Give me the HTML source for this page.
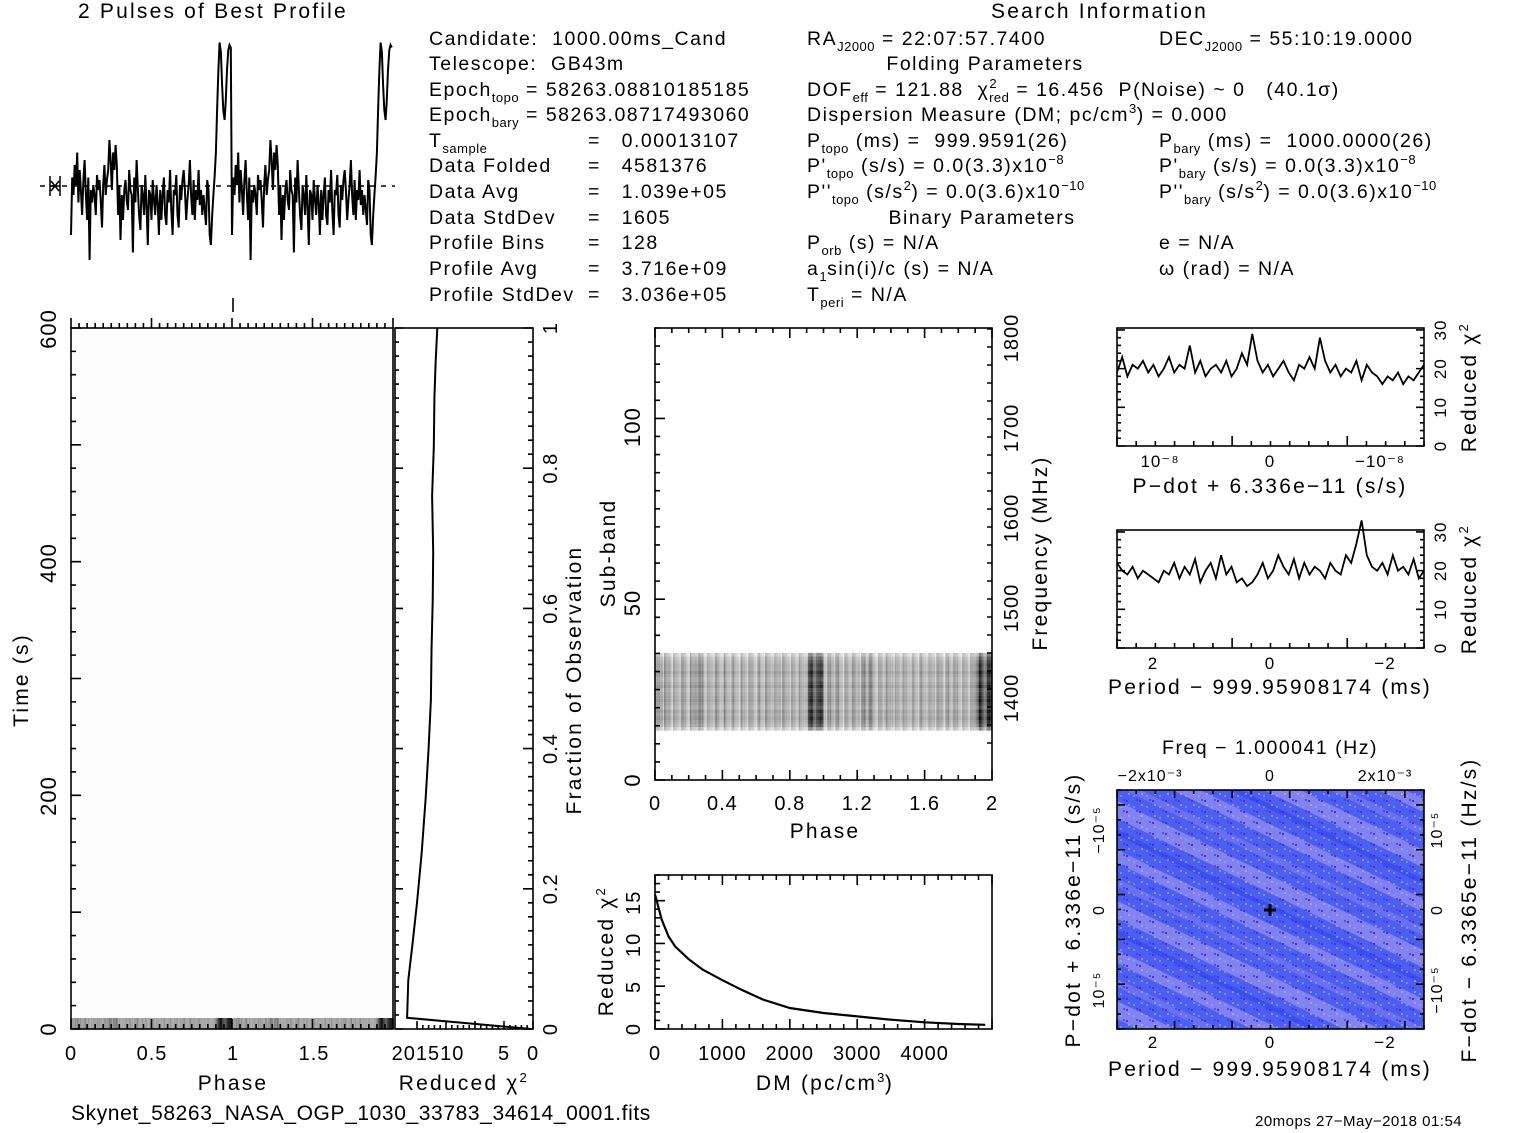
<!DOCTYPE html>
<html><head><meta charset="utf-8">
<style>
html,body{margin:0;padding:0;background:#fff;}
#wrap{position:relative;width:1517px;height:1133px;overflow:hidden;font-family:"Liberation Sans",sans-serif;color:#000;}
svg{position:absolute;left:0;top:0;}
.t{position:absolute;white-space:nowrap;font-size:19.5px;line-height:20px;letter-spacing:1.5px;}
.big{font-size:21px;letter-spacing:2.2px;}
.c{transform:translateX(-50%);}
.r{transform:translate(-50%,-50%) rotate(-90deg);}
sub{font-size:13px;vertical-align:-6px;line-height:0;letter-spacing:0.5px;}
sup{font-size:13px;vertical-align:8px;line-height:0;letter-spacing:0.5px;}
</style></head><body>
<div id="wrap">
<svg id="plot" width="1517" height="1133" xmlns="http://www.w3.org/2000/svg">
<defs>
<pattern id="stripes" patternUnits="userSpaceOnUse" width="400" height="90" patternTransform="rotate(26)">
<rect x="0" y="0" width="400" height="90" fill="#4f5ef0"/>
<rect x="0" y="4" width="400" height="12" fill="#9c8fee" opacity="0.7"/>
<rect x="0" y="30" width="400" height="7" fill="#7f7cf0" opacity="0.6"/>
<rect x="0" y="50" width="400" height="16" fill="#a898ee" opacity="0.6"/>
<rect x="0" y="76" width="400" height="5" fill="#3548f0" opacity="0.7"/>
</pattern>
<pattern id="speck" patternUnits="userSpaceOnUse" width="13" height="11">
<rect x="2" y="3" width="2" height="2" fill="#30d8e8" opacity="0.6"/>
<rect x="8" y="8" width="2" height="2" fill="#2a3ef0"/>
<rect x="10" y="1" width="2" height="2" fill="#d0c0f8" opacity="0.5"/>
<rect x="5" y="7" width="2" height="2" fill="#3040e8" opacity="0.7"/>
</pattern>
</defs>
</svg>

<div class="t big" style="left:78px;top:2px;">2 Pulses of Best Profile</div>
<div class="t big" style="left:991px;top:2px;">Search Information</div>

<div class="t" style="left:429px;top:29px;">Candidate:&nbsp; 1000.00ms_Cand</div>
<div class="t" style="left:429px;top:54px;">Telescope:&nbsp; GB43m</div>
<div class="t" style="left:429px;top:80px;">Epoch<sub>topo</sub> = 58263.08810185185</div>
<div class="t" style="left:429px;top:105px;">Epoch<sub>bary</sub> = 58263.08717493060</div>
<div class="t" style="left:429px;top:131px;">T<sub>sample</sub></div>
<div class="t" style="left:429px;top:156px;">Data Folded</div>
<div class="t" style="left:429px;top:182px;">Data Avg</div>
<div class="t" style="left:429px;top:208px;">Data StdDev</div>
<div class="t" style="left:429px;top:233px;">Profile Bins</div>
<div class="t" style="left:429px;top:259px;">Profile Avg</div>
<div class="t" style="left:429px;top:285px;">Profile StdDev</div>
<div class="t" style="left:588px;top:131px;">=&nbsp;&nbsp; 0.00013107</div>
<div class="t" style="left:588px;top:156px;">=&nbsp;&nbsp; 4581376</div>
<div class="t" style="left:588px;top:182px;">=&nbsp;&nbsp; 1.039e+05</div>
<div class="t" style="left:588px;top:208px;">=&nbsp;&nbsp; 1605</div>
<div class="t" style="left:588px;top:233px;">=&nbsp;&nbsp; 128</div>
<div class="t" style="left:588px;top:259px;">=&nbsp;&nbsp; 3.716e+09</div>
<div class="t" style="left:588px;top:285px;">=&nbsp;&nbsp; 3.036e+05</div>

<div class="t" style="left:807px;top:29px;">RA<sub>J2000</sub> = 22:07:57.7400</div>
<div class="t c" style="left:985px;top:54px;">Folding Parameters</div>
<div class="t" style="left:807px;top:80px;">DOF<sub>eff</sub> = 121.88&nbsp; χ<sup>2</sup><sub style="margin-left:-8px">red</sub> = 16.456&nbsp; P(Noise) ~ 0&nbsp;&nbsp; (40.1σ)</div>
<div class="t" style="left:807px;top:105px;">Dispersion Measure (DM; pc/cm<sup>3</sup>) = 0.000</div>
<div class="t" style="left:807px;top:131px;">P<sub>topo</sub> (ms) =&nbsp; 999.9591(26)</div>
<div class="t" style="left:807px;top:156px;">P'<sub>topo</sub> (s/s) = 0.0(3.3)x10<sup>−8</sup></div>
<div class="t" style="left:807px;top:182px;">P''<sub>topo</sub> (s/s<sup>2</sup>) = 0.0(3.6)x10<sup>−10</sup></div>
<div class="t c" style="left:982px;top:208px;">Binary Parameters</div>
<div class="t" style="left:807px;top:233px;">P<sub>orb</sub> (s) = N/A</div>
<div class="t" style="left:807px;top:259px;">a<sub>1</sub>sin(i)/c (s) = N/A</div>
<div class="t" style="left:807px;top:285px;">T<sub>peri</sub> = N/A</div>

<div class="t" style="left:1159px;top:29px;">DEC<sub>J2000</sub> = 55:10:19.0000</div>
<div class="t" style="left:1159px;top:131px;">P<sub>bary</sub> (ms) =&nbsp; 1000.0000(26)</div>
<div class="t" style="left:1159px;top:156px;">P'<sub>bary</sub> (s/s) = 0.0(3.3)x10<sup>−8</sup></div>
<div class="t" style="left:1159px;top:182px;">P''<sub>bary</sub> (s/s<sup>2</sup>) = 0.0(3.6)x10<sup>−10</sup></div>
<div class="t" style="left:1159px;top:233px;">e = N/A</div>
<div class="t" style="left:1159px;top:259px;">ω (rad) = N/A</div>

<div class="t c big" style="left:233px;top:1074px;">Phase</div>
<div class="t c big" style="left:463px;top:1074px;">Reduced χ<sup>2</sup></div>
<div class="t r big" style="left:22px;top:680px;">Time (s)</div>
<div class="t r big" style="left:575px;top:680px;">Fraction of Observation</div>
<div class="t r big" style="left:609px;top:553px;">Sub-band</div>
<div class="t r big" style="left:1041px;top:553px;">Frequency (MHz)</div>
<div class="t c big" style="left:825px;top:822px;">Phase</div>
<div class="t c big" style="left:825px;top:1074px;">DM (pc/cm<sup>3</sup>)</div>
<div class="t r big" style="left:607px;top:952px;">Reduced χ<sup>2</sup></div>
<div class="t r big" style="left:1470px;top:388px;">Reduced χ<sup>2</sup></div>
<div class="t r big" style="left:1470px;top:590px;">Reduced χ<sup>2</sup></div>
<div class="t c big" style="left:1270px;top:477px;">P−dot + 6.336e−11 (s/s)</div>
<div class="t c big" style="left:1270px;top:678px;">Period − 999.95908174 (ms)</div>
<div class="t c" style="left:1270px;top:738px;">Freq − 1.000041 (Hz)</div>
<div class="t c big" style="left:1270px;top:1060px;">Period − 999.95908174 (ms)</div>
<div class="t r big" style="left:1074px;top:910px;">P−dot + 6.336e−11 (s/s)</div>
<div class="t r big" style="left:1470px;top:910px;">F−dot − 6.3365e−11 (Hz/s)</div>
<div class="t big" style="left:71px;top:1104px;letter-spacing:0.6px;">Skynet_58263_NASA_OGP_1030_33783_34614_0001.fits</div>
<div class="t" style="left:1255px;top:1112px;font-size:15px;letter-spacing:0.5px;">20mops 27−May−2018 01:54</div>
</div>

<script>
// ---------- data ----------
const profile = [22,45,38,50,42,55,35,48,40,30,44,52,38,28,45,12,40,35,42,38,30,46,40,44,36,25,42,50,38,44,48,60,52,40,55,48,58,50,30,42,20,38,28,40,44,36,32,48,40,38,15,45,35,52,40,30,24,42,38,30,46,34,18,40,38,28,44,36,30,42,35,22,40,28,38,45,30,26,40,35,48,32,22,40,38,46,30,25,42,36,44,48,40,28,36,42,52,38,30,44,28,40,36,48,34,40,30,38,32,26,44,40,22,18,30,38,46,55,72,88,99,95,82,72,68,76,88,96,98,97];
const timeFrac = [0,0.016,0.07,0.12,0.18,0.25,0.33,0.40,0.47,0.54,0.61,0.68,0.76,0.83,0.90,0.95,1.0];
const timeChi2 = [0.3,21.7,21.5,20.8,20.0,19.2,18.5,18.0,17.6,17.5,17.3,17.2,17.4,17.1,17.0,16.8,16.5];
const subbandWeights = [0.5,0.8,0.9,1,0.9,1,0.8,0.9,1,0.95,0.9,0.85,1,0.9,0.8,0.9,1,0.85,0.9,0.8,0.7,0.5];
const subbandFirst = 14;
const dmValues = [0,100,200,300,500,700,1000,1300,1600,2000,2500,3000,3500,4000,4500,4900];
const dmChi2 = [16,13,11,9.8,8.3,7.1,5.8,4.6,3.5,2.5,1.9,1.5,1.1,0.8,0.6,0.5];
const pdotChi2 = [19,23,18,21,20,22,19,21,18,20,23,19,21,20,26,19,22,18,20,21,19,22,18,20,24,21,29,22,19,21,18,20,22,19,17,21,20,23,20,28,22,19,21,18,20,19,22,17,21,19,18,16,18,17,19,16,18,17,19,21];
const periodChi2 = [22,20,19,21,18,20,19,18,17,20,19,22,18,21,19,23,17,20,22,18,24,19,21,17,18,16,17,19,22,18,20,24,21,19,23,18,22,19,21,20,18,22,20,19,24,22,27,33,24,21,20,22,19,24,20,21,19,23,18,20];

// ---------- helpers ----------
const S = document.getElementById('plot');
const NS = 'http://www.w3.org/2000/svg';
function mk(tag, attrs){const e=document.createElementNS(NS,tag);for(const k in attrs)e.setAttribute(k,attrs[k]);S.appendChild(e);return e;}
function lin(d0,d1,r0,r1){return v=>r0+(v-d0)*(r1-r0)/(d1-d0);}
function ticks(x1,y1,x2,y2,v0,v1,step,len,dx,dy,major){
  let d='';
  const n=Math.round((v1-v0)/step);
  for(let i=0;i<=n;i++){const v=v0+i*step;const f=(v-v0)/(v1-v0);
    const x=x1+(x2-x1)*f,y=y1+(y2-y1)*f;
    const L=(major&&Math.abs((v/major)-Math.round(v/major))<1e-6)?len*2:len;
    d+=`M${x},${y}l${dx*L},${dy*L}`;}
  return d;
}
function tick(d){return mk('path',{d:d,stroke:'#000','stroke-width':1.6,fill:'none'});}
function lbl(x,y,txt,rot,size,anchor){
  const t=mk('text',{x:x,y:y,'font-family':'Liberation Sans, sans-serif','font-size':size||20,'text-anchor':anchor||'middle','letter-spacing':1});
  if(rot)t.setAttribute('transform',`rotate(-90 ${x} ${y})`);
  t.textContent=txt;return t;
}
function grey(v,w,tex){let I=w*(0.32+Math.max(0,v-40)/60*0.4+(v-30)/100*0.25)+(tex||0);I=Math.max(0,Math.min(1,I));const g=Math.round(255-I*255);return `rgb(${g},${g},${g})`;}

// ---------- profile ----------
const px = lin(0,2,71,393);
const py = lin(0,100,290,40);
let pd='';
for(let k=0;k<2;k++)for(let i=0;i<profile.length;i++){const ph=k+i/profile.length;pd+=(pd?'L':'M')+px(ph).toFixed(1)+','+py(profile[i]).toFixed(1);}
const profLine = mk('path',{d:pd,stroke:'#000','stroke-width':2,fill:'none'});


const base = mk('line',{x1:40,y1:186,x2:395,y2:186,stroke:'#000','stroke-width':1.4,'stroke-dasharray':'5,6'});


const eb = mk('path',{d:'M50,176V196M60,176V196M50,186H60M51,181L59,191M59,181L51,191',stroke:'#000','stroke-width':1.5,fill:'none'});


tick('M233,298V312');

// ---------- time vs phase ----------
const tf = mk('rect',{x:71,y:328,width:322,height:701,fill:'#fcfcfc'});


for(let k=0;k<2;k++)for(let i=0;i<profile.length;i++){
  const x=px(k+i/profile.length);
  const c=mk('rect',{x:x,y:1018,width:1.4,height:11,fill:grey(profile[i],1.05)});
  
}
mk('rect',{x:71,y:328,width:322,height:701,fill:'none',stroke:'#000','stroke-width':1.6});
tick(ticks(71,1029,393,1029,0,2,0.05,5,0,-1,0.5));
tick(ticks(71,328,393,328,0,2,0.05,5,0,-1,0.5));
tick(ticks(71,1029,71,328,0,600,20,5,1,0,100));
lbl(71,1060,'0');lbl(152,1060,'0.5');lbl(233,1060,'1');lbl(314,1060,'1.5');
lbl(56,1029,'0',true,22);lbl(56,796,'200',true,22);lbl(56,563,'400',true,22);lbl(56,329,'600',true,22);

// ---------- chi2 vs time ----------
const cx = lin(0,20,533,417);
const cy = lin(0,1,1029,328);
mk('rect',{x:395,y:328,width:138,height:701,fill:'none',stroke:'#000','stroke-width':1.6});
let cd='';timeFrac.forEach((f,i)=>{cd+=(i?'L':'M')+cx(timeChi2[i]).toFixed(1)+','+cy(f).toFixed(1);});
const tl=mk('path',{d:cd,stroke:'#000','stroke-width':2,fill:'none'});


tick(ticks(533,1029,417,1029,0,20,1,4,0,-1,5));
tick(ticks(533,1029,533,328,0,1,0.02,5,-1,0,0.2));
tick(ticks(395,1029,395,328,0,1,0.02,4,1,0,0.2));
lbl(533,1060,'0');lbl(504,1060,'5');lbl(428,1060,'201510',false,20);
['0','0.2','0.4','0.6','0.8','1'].forEach((t,i)=>lbl(557,cy(i*0.2),t,true,20));

// ---------- sub-band ----------
const sx = lin(0,2,655,992);
const sy = lin(0,128,780,328);
for(let r=0;r<subbandWeights.length;r++){
  const y=sy(subbandFirst+r+1);
  for(let k=0;k<2;k++)for(let i=0;i<profile.length;i++){
    const tex=(((i*37+r*91+k*17)%13)-6)/55;
    const c=mk('rect',{x:sx(k+i/profile.length).toFixed(2),y:y.toFixed(2),width:1.45,height:3.6,fill:grey(profile[i],subbandWeights[r],tex)});
    
  }
}
const sf=mk('rect',{x:655,y:328,width:337,height:452,fill:'none',stroke:'#000','stroke-width':1.6});


tick(ticks(655,780,992,780,0,2,0.1,5,0,-1,0.4));
tick(ticks(655,328,992,328,0,2,0.1,5,0,1,0.4));
tick(ticks(655,780,655,328,0,125,5,5,1,0,50));
const fy=lin(1400,1800,698,338);
tick(ticks(992,fy(1350),992,fy(1800),1350,1800,20,5,-1,0,100));
['0','0.4','0.8','1.2','1.6','2'].forEach((t,i)=>lbl(sx(i*0.4),810,t));
lbl(640,780,'0',true,22);lbl(640,603,'50',true,22);lbl(640,427,'100',true,22);
[1400,1500,1600,1700,1800].forEach(f=>lbl(1018,fy(f),String(f),true,20));

// ---------- DM ----------
const dx = lin(0,5000,655,992);
const dy = lin(0,18.3,1029,875);
mk('rect',{x:655,y:875,width:337,height:154,fill:'none',stroke:'#000','stroke-width':1.6});
let dd='';dmValues.forEach((v,i)=>{dd+=(i?'L':'M')+dx(v).toFixed(1)+','+dy(dmChi2[i]).toFixed(1);});
const dl=mk('path',{d:dd,stroke:'#000','stroke-width':2.2,fill:'none'});


tick(ticks(655,1029,992,1029,0,5000,200,5,0,-1,1000));
tick(ticks(655,875,992,875,0,5000,200,5,0,1,1000));
tick(ticks(655,1029,655,875,0,18,1,5,1,0,5));
[0,1000,2000,3000,4000].forEach(v=>lbl(dx(v),1060,String(v)));
[0,5,10,15].forEach(v=>lbl(640,dy(v),String(v),true,20));

// ---------- P-dot & period chi2 ----------
function smallPanel(top,arr,name,labels){
  const y=lin(0,30,top+118,top+2);
  mk('rect',{x:1117,y:top,width:307,height:118,fill:'none',stroke:'#000','stroke-width':1.6});
  let d='';arr.forEach((v,i)=>{d+=(i?'L':'M')+(1117+i*307/(arr.length-1)).toFixed(1)+','+y(v).toFixed(1);});
  const l=mk('path',{d:d,stroke:'#000','stroke-width':1.8,fill:'none'});
  
  
  tick(ticks(1424,top+118,1424,top,0,30.5,2,4,-1,0,10));
  tick(ticks(1117,top+118,1117,top,0,30.5,2,4,1,0,10));
  [0,10,20,30].forEach(v=>lbl(1446,y(v),String(v),true,17));
  labels.forEach(l=>lbl(l[0],top+139,l[1],false,17));
  tick(ticks(1117,top+118,1424,top+118,0,1,0.0625,5,0,-1,0.375));
}
smallPanel(328,pdotChi2,'pdot-chi2-line',[[1160,'10⁻⁸'],[1270,'0'],[1380,'−10⁻⁸']]);
smallPanel(530,periodChi2,'period-chi2-line',[[1153,'2'],[1270,'0'],[1385,'−2']]);

// ---------- P-Pdot plane ----------
const pp=mk('rect',{x:1117,y:790,width:307,height:239,fill:'url(#stripes)'});


mk('rect',{x:1117,y:790,width:307,height:239,fill:'url(#speck)'});
mk('rect',{x:1117,y:790,width:307,height:239,fill:'none',stroke:'#000','stroke-width':1.6});
const star=mk('path',{d:'M1264,910H1276M1270,904V916',stroke:'#000','stroke-width':3});


tick(ticks(1117,1029,1424,1029,0,1,0.0625,4,0,-1,0.1875));
tick(ticks(1117,790,1424,790,0,1,0.0625,4,0,1,0.1875));
tick(ticks(1117,1029,1117,790,0,1,0.0625,4,1,0,0.1875));
tick(ticks(1424,1029,1424,790,0,1,0.0625,4,-1,0,0.1875));
lbl(1153,1048,'2',false,17);lbl(1270,1048,'0',false,17);lbl(1385,1048,'−2',false,17);
lbl(1150,781,'−2x10⁻³',false,16);lbl(1270,781,'0',false,16);lbl(1385,781,'2x10⁻³',false,16);
lbl(1104,830,'−10⁻⁵',true,16);lbl(1104,910,'0',true,16);lbl(1104,990,'10⁻⁵',true,16);
lbl(1442,830,'10⁻⁵',true,16);lbl(1442,910,'0',true,16);lbl(1442,990,'−10⁻⁵',true,16);
</script>
</body></html>
